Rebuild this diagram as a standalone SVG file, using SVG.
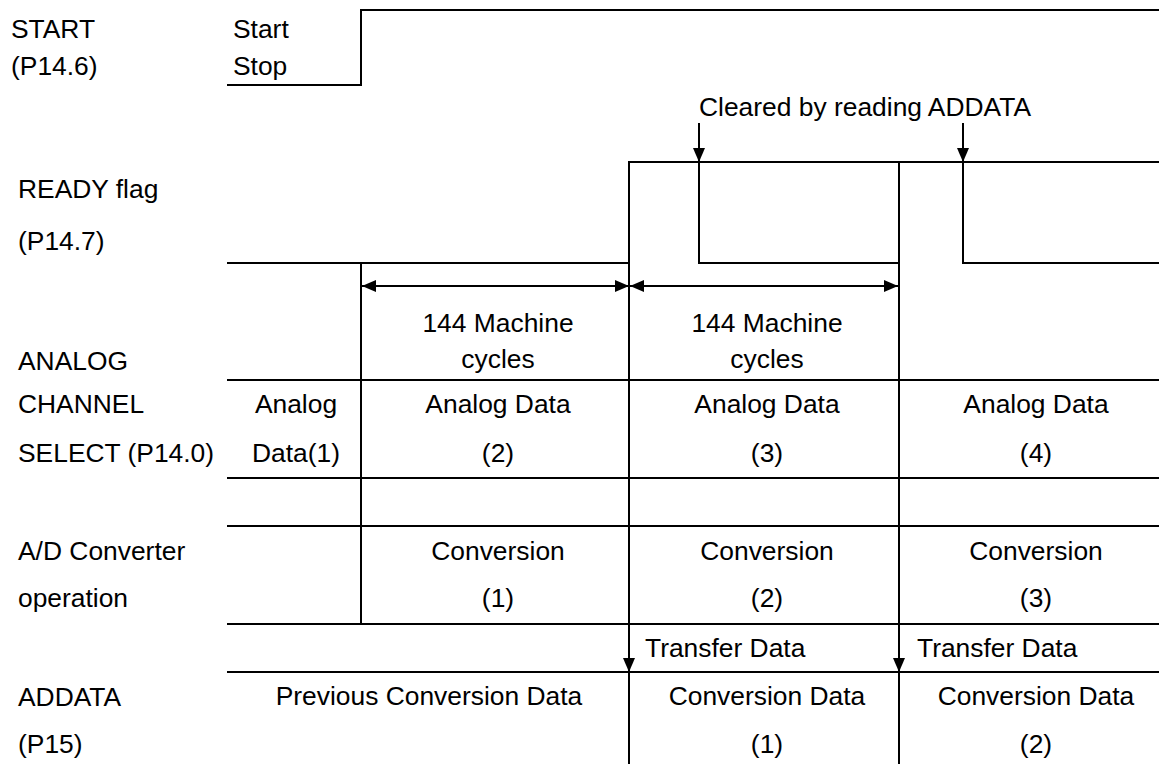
<svg xmlns="http://www.w3.org/2000/svg" width="1159" height="764" viewBox="0 0 1159 764">
<style>
text{font-family:"Liberation Sans",Arial,sans-serif;font-size:26.4px;fill:#000}
.c{text-anchor:middle}
.ln{fill:none;stroke:#000;stroke-width:2}
</style>
<defs>
<marker id="ah" markerUnits="userSpaceOnUse" markerWidth="14" markerHeight="12" refX="14" refY="6" orient="auto-start-reverse" viewBox="0 0 14 12">
<path d="M0,0 L14,6 L0,12 z" fill="#000"/>
</marker>
</defs>
<rect width="1159" height="764" fill="#fff"/>

<g id="start-signal">
<text x="11" y="38">START</text>
<text x="11" y="75">(P14.6)</text>
<text x="233" y="38">Start</text>
<text x="233" y="75">Stop</text>
<path class="ln" d="M227,85 H361 V10 H1159"/>
</g>

<g id="ready-flag">
<text x="18" y="198">READY flag</text>
<text x="18" y="250">(P14.7)</text>
<text x="699" y="116">Cleared by reading ADDATA</text>
<path class="ln" d="M227,263 H629 V162 H1159"/>
<path class="ln" d="M699,162 V263 H899"/>
<path class="ln" d="M963,162 V263 H1159"/>
</g>

<g id="grid">
<path class="ln" d="M361,263 V624"/>
<path class="ln" d="M629,162 V764"/>
<path class="ln" d="M899,162 V764"/>
<path class="ln" d="M227,380 H1159 M227,478 H1159 M227,526 H1159 M227,624 H1159 M227,672 H1159"/>
</g>

<g id="timing">
<text class="c" x="498" y="332">144 Machine</text>
<text class="c" x="498" y="368">cycles</text>
<text class="c" x="767" y="332">144 Machine</text>
<text class="c" x="767" y="368">cycles</text>
</g>

<g id="analog-channel-select">
<text x="18" y="370">ANALOG</text>
<text x="18" y="413">CHANNEL</text>
<text x="18" y="462">SELECT (P14.0)</text>
<text class="c" x="296" y="413">Analog</text>
<text class="c" x="296" y="462">Data(1)</text>
<text class="c" x="498" y="413">Analog Data</text>
<text class="c" x="498" y="462">(2)</text>
<text class="c" x="767" y="413">Analog Data</text>
<text class="c" x="767" y="462">(3)</text>
<text class="c" x="1036" y="413">Analog Data</text>
<text class="c" x="1036" y="462">(4)</text>
</g>

<g id="ad-converter">
<text x="18" y="560">A/D Converter</text>
<text x="18" y="607">operation</text>
<text class="c" x="498" y="560">Conversion</text>
<text class="c" x="498" y="607">(1)</text>
<text class="c" x="767" y="560">Conversion</text>
<text class="c" x="767" y="607">(2)</text>
<text class="c" x="1036" y="560">Conversion</text>
<text class="c" x="1036" y="607">(3)</text>
</g>

<g id="transfer">
<text x="645" y="657">Transfer Data</text>
<text x="917" y="657">Transfer Data</text>
</g>

<g id="addata">
<text x="18" y="706">ADDATA</text>
<text x="18" y="753">(P15)</text>
<text class="c" x="429" y="705">Previous Conversion Data</text>
<text class="c" x="767" y="705">Conversion Data</text>
<text class="c" x="767" y="753">(1)</text>
<text class="c" x="1036" y="705">Conversion Data</text>
<text class="c" x="1036" y="753">(2)</text>
</g>

<g id="connectors">
<path class="ln" d="M699,123 V162" marker-end="url(#ah)"/>
<path class="ln" d="M963,123 V162" marker-end="url(#ah)"/>
<path class="ln" d="M362,286 H629" marker-start="url(#ah)" marker-end="url(#ah)"/>
<path class="ln" d="M630,286 H898" marker-start="url(#ah)" marker-end="url(#ah)"/>
<path class="ln" d="M629,640 V672" marker-end="url(#ah)"/>
<path class="ln" d="M899,640 V672" marker-end="url(#ah)"/>
</g>
</svg>
